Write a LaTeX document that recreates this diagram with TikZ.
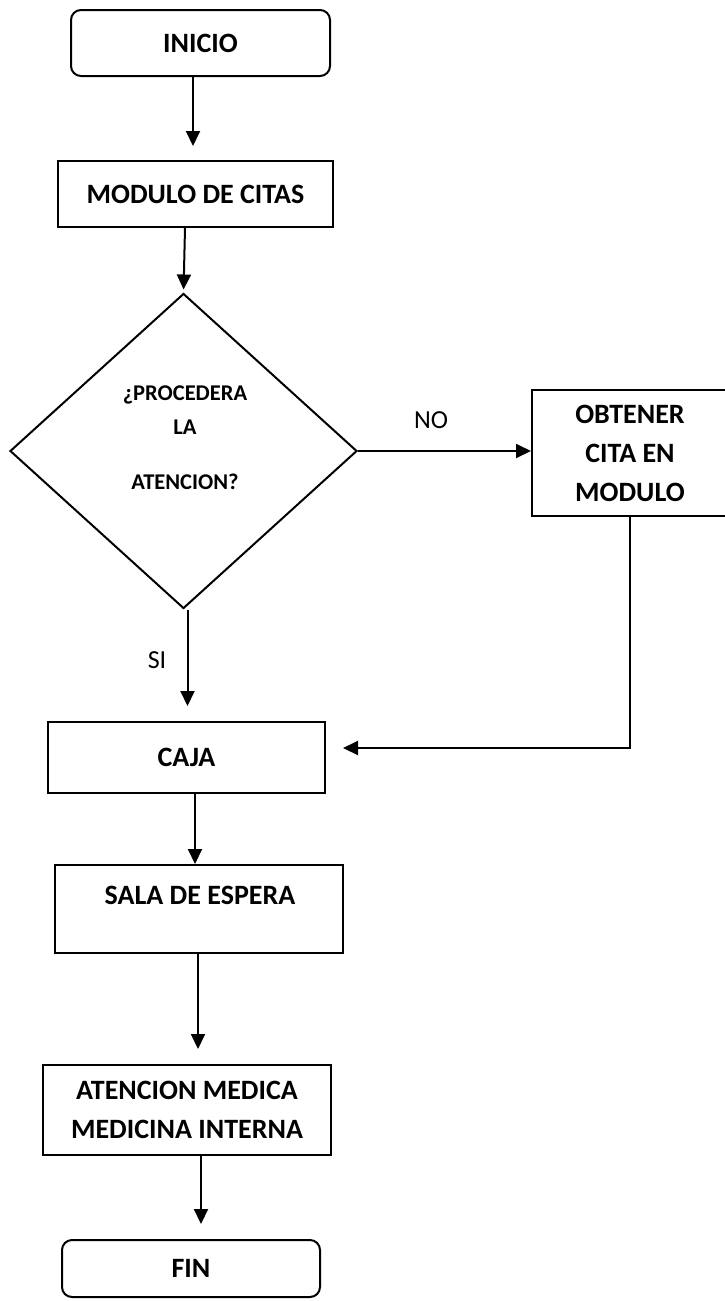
\documentclass[tikz,border=0pt]{standalone}
\usepackage{fontspec}
\setmainfont{Carlito}
\usetikzlibrary{shapes.geometric,arrows.meta,calc}
\begin{document}
\begin{tikzpicture}[x=1pt,y=-1pt,
  every node/.style={font=\bfseries\fontsize{28}{39}\selectfont},
  boxstyle/.style={draw, line width=2pt, inner sep=0pt, align=center},
  termstyle/.style={boxstyle, rounded corners=10pt},
  decision/.style={draw, diamond, line width=2pt, inner sep=0pt},
  qtext/.style={inner sep=0pt, anchor=base, font=\bfseries\fontsize{22.5}{27}\selectfont},
  lbl/.style={inner sep=0pt, align=center},
  edgelbl/.style={inner sep=0pt, font=\fontsize{26}{30}\selectfont},
  arr/.style={line width=2pt, -{Triangle[length=15pt,width=14pt]}},
  plain/.style={line width=2pt}
]
\useasboundingbox (0,0) rectangle (725,1301);
\fill[white] (0,0) rectangle (725,1301);

% process boxes
\node[termstyle, minimum width=259pt, minimum height=66pt] (ini) at (200.5,43) {INICIO};
\node[boxstyle, minimum width=275pt, minimum height=66pt] (mod) at (195.5,194) {MODULO DE CITAS};
\node[decision, minimum width=347pt, minimum height=315pt] (dec) at (183.5,451) {};
\node[qtext] (q1) at (185,400) {¿PROCEDERA};
\node[qtext] (q2) at (185,434) {LA};
\node[qtext] (q3) at (185,489) {ATENCION?};
\node[boxstyle, minimum width=196pt, minimum height=126pt] (obt) at (630,453) {OBTENER\\CITA EN\\MODULO};
\node[boxstyle, minimum width=277pt, minimum height=71pt] (caja) at (186.5,757.5) {CAJA};
\node[boxstyle, minimum width=288pt, minimum height=88pt] (sala) at (199,909) {};
\node[lbl] (salat) at (200,895) {SALA DE ESPERA};
\node[boxstyle, minimum width=288pt, minimum height=90pt] (aten) at (187,1110) {ATENCION MEDICA\\MEDICINA INTERNA};
\node[termstyle, minimum width=258pt, minimum height=57pt] (fin) at (191,1268.5) {FIN};

% branch labels
\node[edgelbl] (no) at (431,420) {NO};
\node[edgelbl] (si) at (157,660) {SI};

% connectors
\draw[arr, shorten >=14pt] ($(ini.south)+(-7.5,0)$) -- ($(ini.south |- mod.north)+(-7.5,0)$);
\draw[arr, shorten >=3pt] ($(mod.south)+(-10.5,0)$) -- (dec.north);
\draw[arr] (dec.east) -- (dec.east -| obt.west);
\draw[arr, shorten >=15pt] ($(dec.south)+(4,0)$) -- ($(dec.south |- caja.north)+(4,0)$);
\draw[arr] (obt.south) |- ($(caja.east)+(17,-9.5)$);
\draw[arr] ($(caja.south)+(8.5,0)$) -- ($(caja.south |- sala.north)+(8.5,0)$);
\draw[arr, shorten >=15pt] ($(sala.south)+(-1,0)$) -- ($(sala.south |- aten.north)+(-1,0)$);
\draw[arr, shorten >=15pt] ($(aten.south)+(14,0)$) -- ($(aten.south |- fin.north)+(14,0)$);
\end{tikzpicture}
\end{document}
